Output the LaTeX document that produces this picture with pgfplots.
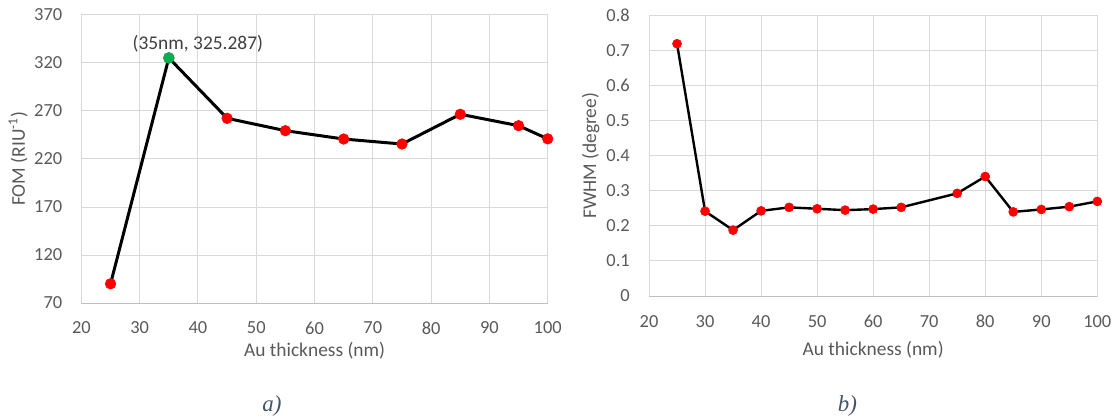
\documentclass[border=0pt]{standalone}
\usepackage{pgfplots}
\pgfplotsset{compat=1.18}
\usepackage{fontspec}
\setmainfont{Carlito}
\newfontfamily\capfont{Liberation Serif}
\definecolor{gridc}{HTML}{D9D9D9}
\definecolor{axc}{HTML}{BFBFBF}
\definecolor{txt}{HTML}{595959}
\definecolor{anno}{HTML}{404040}
\definecolor{capc}{HTML}{44546A}
\definecolor{mred}{HTML}{FF0000}
\definecolor{mgreen}{HTML}{00B050}
\pgfplotstableread{
x y
25 90
35 325.287
45 262.4
55 249.5
65 240.8
75 235.6
85 266.6
95 254.7
100 241.0
}\fomdata
\pgfplotstableread{
x y
25 0.720
30 0.242
35 0.188
40 0.243
45 0.253
50 0.249
55 0.245
60 0.248
65 0.253
75 0.293
80 0.341
85 0.240
90 0.247
95 0.255
100 0.270
}\fwhmdata
\pgfplotsset{
  common/.style={
    scale only axis,
    clip=false,
    anchor=south west,
    xmin=20, xmax=100,
    xtick={20,30,...,100},
    grid=major,
    major grid style={draw=gridc, line width=1bp},
    axis line style={draw=gridc, line width=1bp},
    major tick length=0pt,
    tick style={draw=none},
    /pgf/number format/assume math mode=true,
    ticklabel style={font=\fontsize{18.5}{21}\selectfont, text=txt},
    xticklabel style={anchor=center, yshift=-25bp},
    yticklabel style={anchor=east, inner sep=0pt, xshift=-19bp},
    label style={font=\fontsize{19.5}{22}\selectfont, text=txt},
    xlabel={Au thickness (nm)},
  }
}
\begin{document}
\begin{tikzpicture}[x=1bp,y=1bp]
\useasboundingbox (0,0) rectangle (1120,418);
\begin{axis}[common,
  at={(81.4bp,115bp)}, width=466.3bp, height=288bp,
  ymin=70, ymax=370, ytick={70,120,...,370},
  ylabel={FOM (RIU\textsuperscript{-1})},
  ylabel style={at={(axis description cs:-0.136,0.5)}, anchor=center},
  xlabel style={at={(axis description cs:0.5,-0.1656)}, anchor=center},
]
\draw[axc, line width=1bp] (rel axis cs:0,0) -- (rel axis cs:1,0);
\addplot[black, line width=3bp, mark=*, mark size=5.3bp,
  mark options={draw=mred, fill=mred, line width=0.6bp}] table[x=x,y=y] {\fomdata};
\addplot[only marks, mark=*, mark size=5.4bp,
  mark options={draw=mgreen, fill=mgreen, line width=0.6bp}]
  coordinates {(35,325.287)};
\node[font=\fontsize{19.5}{22}\selectfont, text=anno, xshift=29bp, yshift=14.5bp]
  at (axis cs:35,325.287) {(35nm, 325.287)};
\end{axis}
\begin{axis}[common,
  at={(649bp,122bp)}, width=448.3bp, height=280.3bp,
  ymin=0, ymax=0.8, ytick={0,0.1,...,0.8},
  yticklabel style={/pgf/number format/fixed, /pgf/number format/precision=1},
  ylabel={FWHM (degree)},
  ylabel style={at={(axis description cs:-0.130,0.5)}, anchor=center},
  xlabel style={at={(axis description cs:0.5,-0.1927)}, anchor=center},
  xticklabel style={yshift=-0.7bp},
]
\draw[axc, line width=1bp] (rel axis cs:0,0) -- (rel axis cs:1,0);
\addplot[black, line width=2.4bp, mark=*, mark size=4.5bp,
  mark options={draw=mred, fill=mred, line width=0.6bp}] table[x=x,y=y] {\fwhmdata};
\end{axis}
\node[font=\capfont\itshape\fontsize{23}{26}\selectfont, text=capc] at (272,12) {a)};
\node[font=\capfont\itshape\fontsize{23}{26}\selectfont, text=capc] at (847.5,12) {b)};
\end{tikzpicture}
\end{document}
